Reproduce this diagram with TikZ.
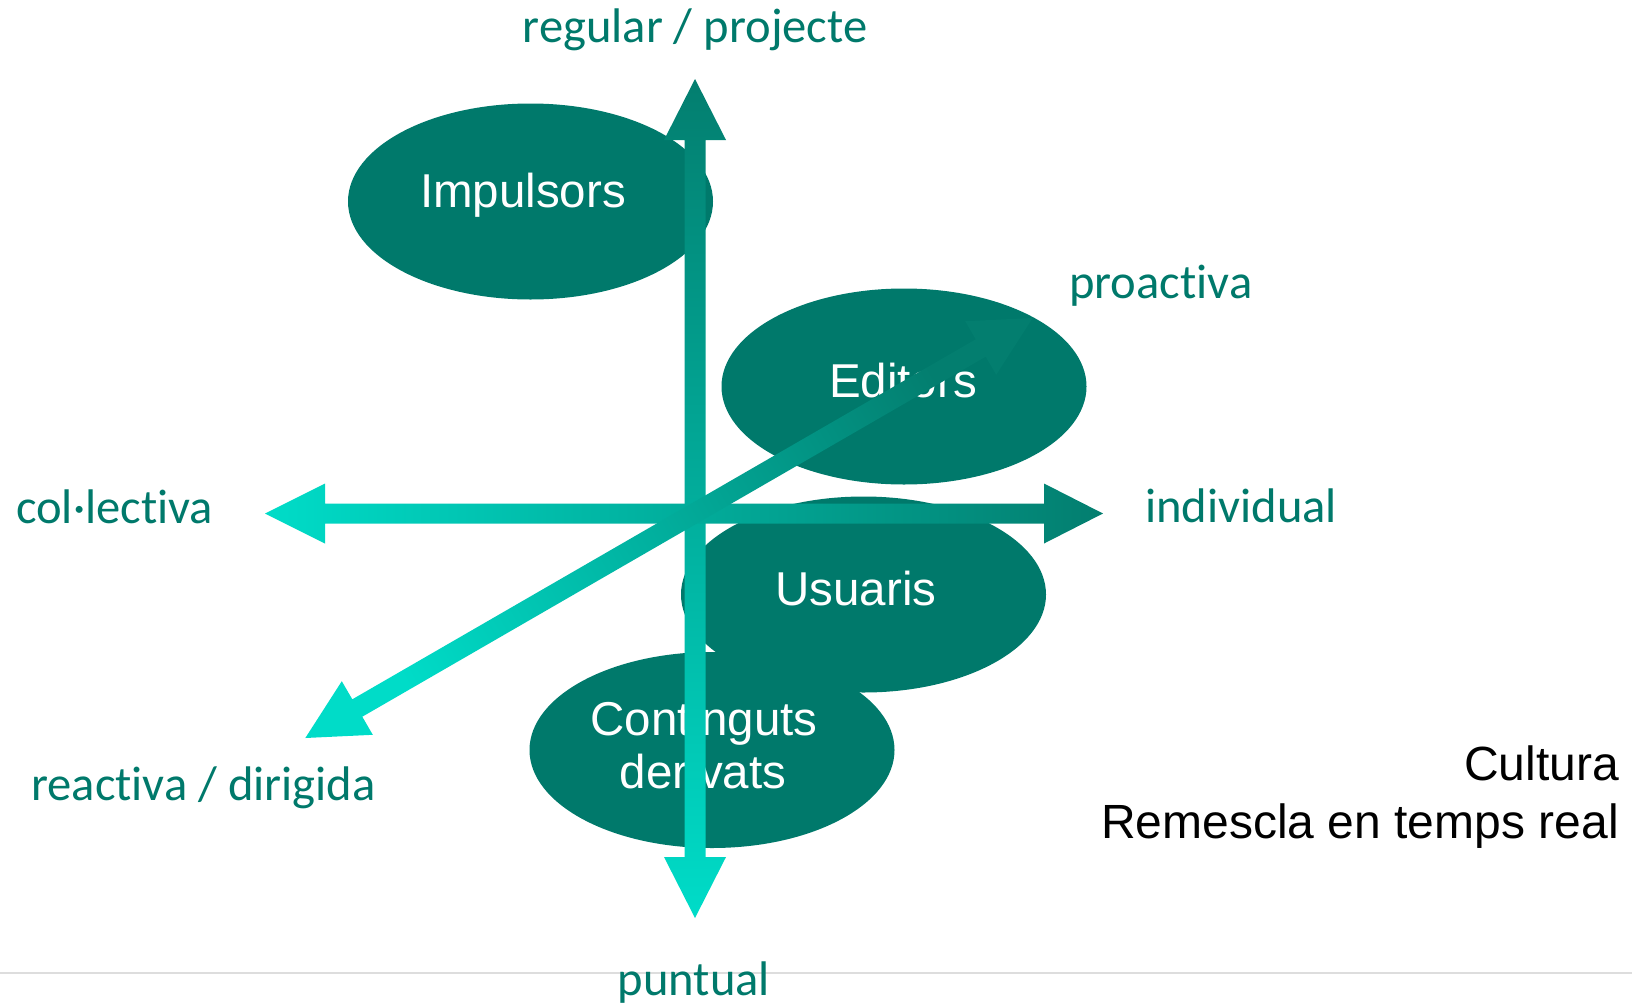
\documentclass[tikz,border=0pt]{standalone}
\usepackage{fontspec}
\setmainfont{Liberation Sans}
\newfontfamily\carlito[Ligatures=NoCommon]{Carlito}
\usetikzlibrary{shapes.geometric}
\definecolor{tealdk}{HTML}{00796B}
\definecolor{arbright}{HTML}{00DCC8}
\definecolor{ardark}{HTML}{037E6F}
\definecolor{rulegray}{HTML}{DDDDDD}
\tikzset{
  blob/.style={ellipse, fill=tealdk, draw=none, inner sep=0pt, minimum width=365pt, minimum height=196pt},
  blobtext/.style={text=white, inner sep=0pt, anchor=base, font=\fontsize{47.5}{56}\selectfont},
  axislab/.style={text=tealdk, inner sep=0pt, font=\carlito\fontsize{48.6}{56}\selectfont},
  note/.style={text=black, inner sep=0pt, anchor=base east, font=\fontsize{48}{58}\selectfont}
}
\begin{document}
\begin{tikzpicture}[x=1pt,y=-1pt]
\useasboundingbox (0,0) rectangle (1632,1004);
% rule
\coordinate (rl) at (0,972.5);
\coordinate (rr) at (1632,972.5);
\draw[rulegray, line width=2pt] (rl) -- (rr);
% ellipses
\node[blob] (imp) at (530.5,201.5) {};
\node[blob] (edi) at (904,386.5) {};
\node[blob] (usu) at (863.5,594.5) {};
\node[blob] (con) at (712,750) {};
\node[blobtext] (impt) at (523,207) {Impulsors};
\node[blobtext] (edit) at (903,397) {Editors};
\node[blobtext] (usut) at (856,605) {Usuaris};
\node[blobtext] (cont1) at (704,735) {Continguts};
\node[blobtext] (cont2) at (703,788) {derivats};
% vertical axis
\shade[top color=ardark, bottom color=arbright]
  (695,79) -- (726,140) -- (705.5,140) -- (705.5,857) -- (726,857) -- (695,918)
  -- (664,857) -- (684.5,857) -- (684.5,140) -- (664,140) -- cycle;
% horizontal axis
\shade[left color=arbright, right color=ardark]
  (265,513.5) -- (325,483.5) -- (325,503.5) -- (1044,503.5) -- (1044,483.5) -- (1103,513.5)
  -- (1044,543.5) -- (1044,523.5) -- (325,523.5) -- (325,543.5) -- cycle;
% diagonal axis
\shade[left color=arbright, right color=ardark, shading angle=120]
  (1032.7,318) -- (996.2,374.8) -- (985.7,356.7) -- (362.3,716.7) -- (372.8,734.8)
  -- (305.3,738) -- (341.8,681.2) -- (352.3,699.3) -- (975.7,339.3) -- (965.2,321.2) -- cycle;
% axis labels
\node[axislab, anchor=base] (reg) at (695,42) {regular / projecte};
\node[axislab, anchor=base west] (pro) at (1069,298) {proactiva};
\node[axislab, anchor=base west] (col) at (16,523) {col·lectiva};
\node[axislab, anchor=base west] (ind) at (1145,522) {individual};
\node[axislab, anchor=base west] (rea) at (31,800) {reactiva / dirigida};
\node[axislab, anchor=base] (pun) at (694,995) {puntual};
% note
\node[note] (cul) at (1619,780) {Cultura};
\node[note] (rem) at (1619,838) {Remescla en temps real};
\end{tikzpicture}
\end{document}
